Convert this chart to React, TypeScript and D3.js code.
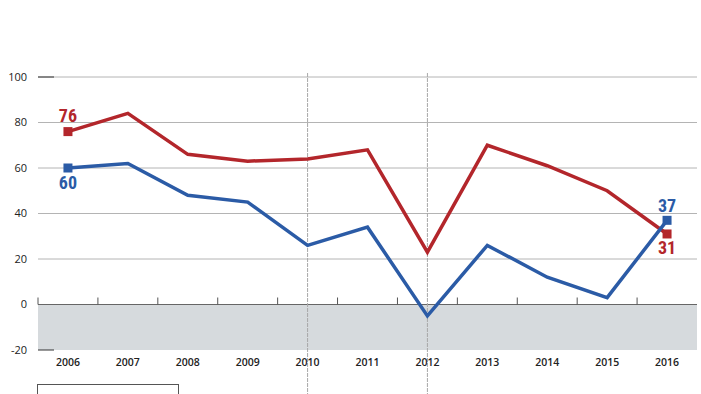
import * as d3 from "d3";
import { useRef, useEffect } from "react";

const years = ["2006", "2007", "2008", "2009", "2010", "2011", "2012", "2013", "2014", "2015", "2016"];
const redValues = [76, 84, 66, 63, 64, 68, 23, 70, 61, 50, 31];
const blueValues = [60, 62, 48, 45, 26, 34, -5, 26, 12, 3, 37];
const yTicks = [-20, 0, 20, 40, 60, 80, 100];
const markedYears = ["2010", "2012"];

const RED = "#b3262b";
const BLUE = "#2b5ba6";

const Chart = () => {
  const ref = useRef<SVGSVGElement>(null);

  useEffect(() => {
    const svg = d3.select(ref.current);
    svg.selectAll("*").remove();

    const width = 701;
    const height = 394;
    const left = 38;
    const right = 697;

    const x = d3.scaleBand().domain(years).range([left, right]).padding(0);
    const cx = (d: string) => (x(d) as number) + x.bandwidth() / 2;
    const y = d3.scaleLinear().domain([-20, 100]).range([350, 77]);

    svg.attr("width", width).attr("height", height);

    // negative zone
    svg.append("rect")
      .attr("x", left)
      .attr("y", y(0))
      .attr("width", right - left)
      .attr("height", y(-20) - y(0))
      .attr("fill", "#d6dadd");

    // gridlines
    svg.append("g")
      .selectAll("line")
      .data(yTicks.filter((d) => d > 0))
      .join("line")
      .attr("x1", left)
      .attr("x2", right)
      .attr("y1", (d) => y(d))
      .attr("y2", (d) => y(d))
      .attr("stroke", "#b4b4b4")
      .attr("stroke-width", 1);

    // short dark marks at top and bottom
    [100, -20].forEach((v) => {
      svg.append("line")
        .attr("x1", left)
        .attr("x2", left + 16)
        .attr("y1", y(v))
        .attr("y2", y(v))
        .attr("stroke", "#333")
        .attr("stroke-width", 1);
    });

    // zero line with ticks at band edges
    svg.append("line")
      .attr("x1", left)
      .attr("x2", right)
      .attr("y1", y(0))
      .attr("y2", y(0))
      .attr("stroke", "#666")
      .attr("stroke-width", 1);

    svg.append("g")
      .selectAll("line")
      .data(years)
      .join("line")
      .attr("x1", (d) => x(d) as number)
      .attr("x2", (d) => x(d) as number)
      .attr("y1", y(0))
      .attr("y2", y(0) - 7)
      .attr("stroke", "#555")
      .attr("stroke-width", 1);

    // vertical markers
    svg.append("g")
      .selectAll("line")
      .data(markedYears)
      .join("line")
      .attr("x1", (d) => cx(d))
      .attr("x2", (d) => cx(d))
      .attr("y1", 73)
      .attr("y2", height)
      .attr("stroke", "#a8a8a8")
      .attr("stroke-width", 1)
      .attr("stroke-dasharray", "4,1");

    // y labels
    svg.append("g")
      .selectAll("text")
      .data(yTicks)
      .join("text")
      .attr("x", 27)
      .attr("y", (d) => y(d))
      .attr("dy", "0.35em")
      .attr("text-anchor", "end")
      .attr("font-family", "'Open Sans', sans-serif")
      .attr("font-size", 11)
      .attr("fill", "#222")
      .text((d) => d);

    // x labels
    svg.append("g")
      .selectAll("text")
      .data(years)
      .join("text")
      .attr("x", (d) => cx(d))
      .attr("y", 366)
      .attr("text-anchor", "middle")
      .attr("font-family", "'Open Sans', sans-serif")
      .attr("font-size", 10.5)
      .attr("font-weight", 600)
      .attr("fill", "#222")
      .text((d) => d);

    // lines
    const line = d3.line<number>()
      .x((_, i) => cx(years[i]))
      .y((d) => y(d));

    [
      { values: redValues, color: RED },
      { values: blueValues, color: BLUE },
    ].forEach((s) => {
      svg.append("path")
        .datum(s.values)
        .attr("d", line)
        .attr("fill", "none")
        .attr("stroke", s.color)
        .attr("stroke-width", 3.5)
        .attr("stroke-linejoin", "miter");
    });

    // end markers and labels
    const last = years.length - 1;
    const marks = [
      { i: 0, v: redValues[0], color: RED, dy: -10 },
      { i: 0, v: blueValues[0], color: BLUE, dy: 21 },
      { i: last, v: blueValues[last], color: BLUE, dy: -8 },
      { i: last, v: redValues[last], color: RED, dy: 20 },
    ];
    const sq = 9;
    marks.forEach((m) => {
      const px = cx(years[m.i]);
      const py = y(m.v);
      svg.append("rect")
        .attr("x", px - sq / 2)
        .attr("y", py - sq / 2)
        .attr("width", sq)
        .attr("height", sq)
        .attr("fill", m.color);
      svg.append("text")
        .attr("x", px)
        .attr("y", py + m.dy)
        .attr("text-anchor", "middle")
        .attr("font-family", "'Liberation Sans Narrow', 'Roboto Condensed', sans-serif")
        .attr("font-weight", "bold")
        .attr("font-size", 18)
        .attr("fill", m.color)
        .text(m.v);
    });

    // legend box (cut off at bottom)
    svg.append("rect")
      .attr("x", 37.5)
      .attr("y", 384.5)
      .attr("width", 141)
      .attr("height", 30)
      .attr("fill", "none")
      .attr("stroke", "#555")
      .attr("stroke-width", 1);
  }, []);

  return <svg ref={ref} style={{ position: "absolute", left: 0, top: 0 }} />;
};

export default function App() {
  return <Chart />;
}
